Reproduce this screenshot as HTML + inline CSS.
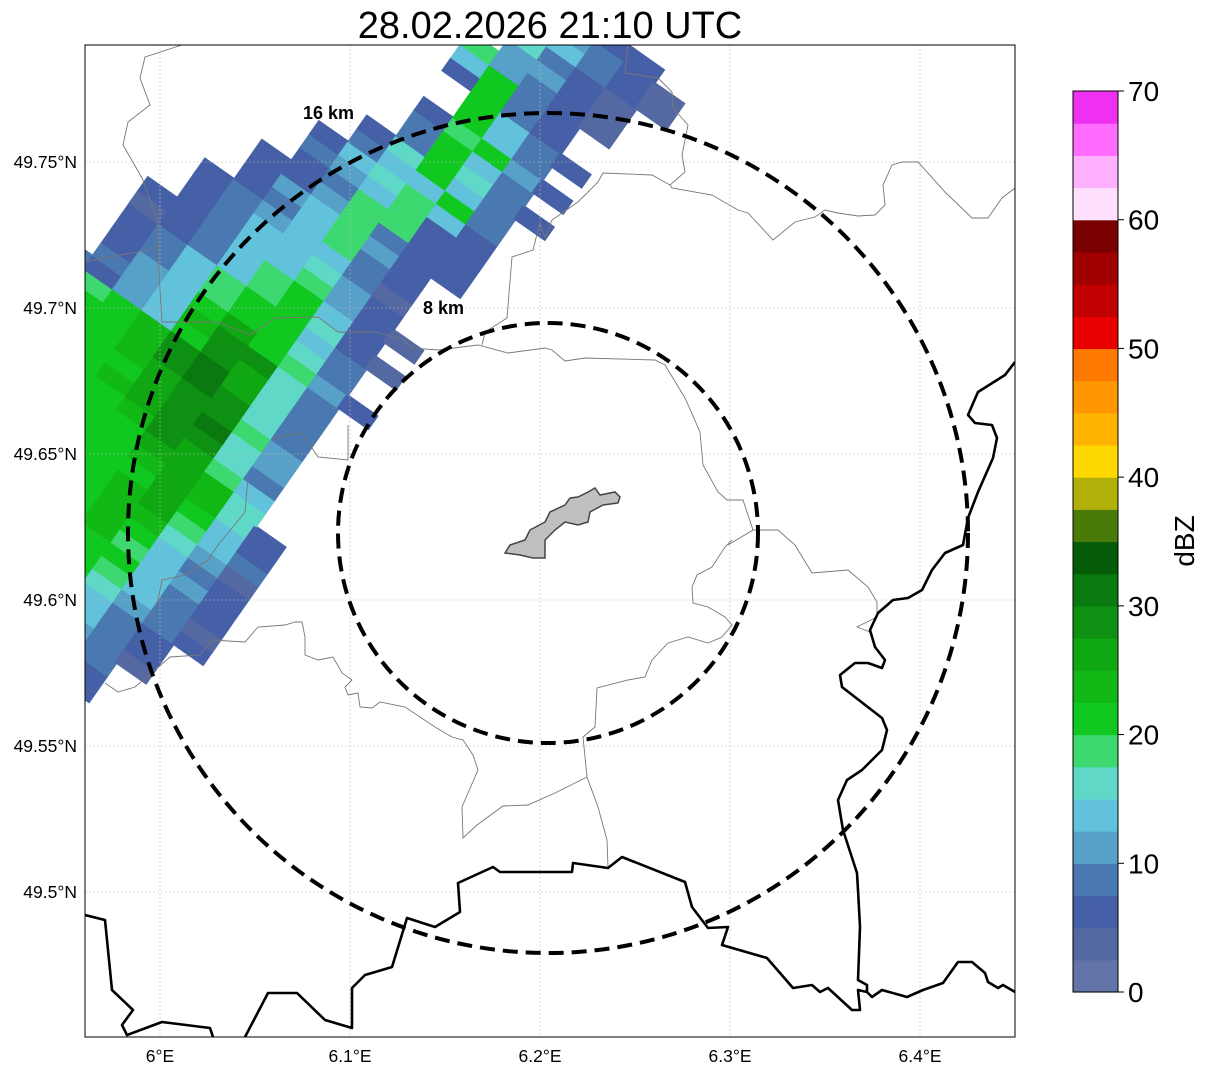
<!DOCTYPE html>
<html><head><meta charset="utf-8">
<style>
html,body{margin:0;padding:0;background:#fff;}
svg{display:block;font-family:"Liberation Sans","DejaVu Sans",sans-serif;}
</style></head>
<body>
<svg id="chart" width="1207" height="1073" viewBox="0 0 1207 1073">
  <defs><clipPath id="mapclip"><rect x="85" y="45" width="930" height="992"/></clipPath></defs>
  <rect width="1207" height="1073" fill="#fff"/>
  <text x="550" y="38" text-anchor="middle" font-size="38" fill="#000">28.02.2026 21:10 UTC</text>
  <g id="map" clip-path="url(#mapclip)">
    <g id="echoes"></g>
    <g id="grid" stroke="#bbb" stroke-width="0.6" stroke-dasharray="2,2" fill="none"></g>
    <g fill="none" stroke="#777" stroke-width="0.9">
      <polyline points="182,45 145,57 140,78 150,105 128,122 123,145 142,178 157,218 158,245 160,290 162,322 185,322 218,322 250,335 275,318 318,317 338,332 375,332 402,339 412,348 438,350 478,345 508,353 545,348 552,350 565,361 585,358 655,360 665,365 685,398 700,432 703,465 718,492 727,500 743,500 753,530 728,545"/>
      <polyline points="753,530 778,530 795,545 812,573 848,570 868,587 877,602 877,617 857,627 870,632"/>
      <polyline points="732,540 725,547 712,567 697,575 692,587 693,603 708,607 725,617 732,625 722,637 708,643 688,637 668,643 652,660 645,677 628,680 597,688 595,727 583,737 587,777 598,807 607,840 608,867"/>
      <polyline points="587,777 555,793 528,805 503,806 477,825 463,838 462,807 468,793 478,770 473,755 463,740 452,737 435,727 405,707 380,702 372,708 360,707 358,693 348,695 345,687 352,680 342,673 333,657 318,660 305,655 305,637 302,622 295,622 285,625 258,627 245,642 212,640 200,655 170,657 155,670 135,687 118,692 105,683"/>
      <polyline points="628,45 625,73 658,78 672,92 673,108 688,125 682,155 685,172 670,185 652,175 603,173 598,182 578,202 552,220 545,238 540,222 533,250 512,257 507,318 485,332 482,345"/>
      <polyline points="670,185 672,188 712,195 738,210 748,213 773,240 795,222 815,217 825,210 838,213 858,216 875,215 885,205 883,185 892,165 902,162 918,162 945,192 972,218 988,218 1002,198 1015,188"/>
      <polyline points="158,245 150,250 120,255 85,262"/>
      <polyline points="272,438 302,433 318,457 348,460 348,425"/>
      <polyline points="248,478 245,512 232,528 218,545 208,560 185,575 162,580 158,600 150,620"/>
    </g>
    <g fill="none" stroke="#000" stroke-width="2.6" stroke-linejoin="round">
      <polyline points="1015,362 1005,375 978,392 968,415 975,423 992,425 997,438 993,458 978,492 968,518 963,545 945,553 932,570 922,590 908,598 893,600 878,613 870,630 875,647 885,660 882,668 868,663 855,663 840,675 842,687 882,718 887,730 882,750 862,770 847,780 838,800 843,830 857,873 858,890 860,927 858,980 867,985 867,992 858,990 860,1010 852,1010 828,988 820,992 812,985 793,988 767,958 722,945 728,927 708,928 692,907 685,882 622,857 608,868 573,863 572,872 500,872 493,867 458,883 460,912 435,927 407,918 392,967 365,975 352,988 352,1028 325,1020 297,993 268,993 245,1037"/>
      <polyline points="867,992 872,997 882,990 907,997 923,990 943,983 958,962 972,962 985,973 988,982 998,988 1003,985 1015,992"/>
      <polyline points="85,915 105,920 112,990 133,1010 122,1025 127,1035 162,1022 210,1028 213,1037"/>
    </g>
    <polygon fill="#c0c0c0" stroke="#444" stroke-width="1.5" points="505,553 510,545 525,540 530,530 545,522 550,512 565,505 570,498 578,497 588,492 595,488 600,495 615,492 620,497 618,503 603,505 590,512 588,522 578,525 565,522 555,530 545,540 545,558 533,558 520,555"/>
    <circle cx="548" cy="533" r="210" fill="none" stroke="#000" stroke-width="4" stroke-dasharray="15,8"/>
    <circle cx="548" cy="533" r="420" fill="none" stroke="#000" stroke-width="4" stroke-dasharray="15,8"/>
    <text x="303" y="119" font-size="18" font-weight="bold">16 km</text>
    <text x="423" y="314" font-size="18" font-weight="bold">8 km</text>
  </g>
  <rect x="85" y="45" width="930" height="992" fill="none" stroke="#000" stroke-width="1"/>
  <g id="ticklabels" font-size="17.5" fill="#000"></g>
  <g id="colorbar"></g>
  <text transform="translate(1194,541) rotate(-90)" text-anchor="middle" font-size="28">dBZ</text>
</svg>
<script>
// ---- data ----
const levels = [0,2.5,5,7.5,10,12.5,15,17.5,20,22.5,25,27.5,30,32.5,35,37.5,40,42.5,45,47.5,50,52.5,55,57.5,60,62.5,65,67.5];
const levelColors = ["#6374a8","#5468a2","#4560a6","#4a78b0","#57a0c8","#62c2dc","#5fd8c8","#3dd870","#10c820","#12b815","#10a812","#0e9012","#0a7a10","#045c08","#4a7a08","#b0b008","#ffd800","#ffb400","#ff9800","#ff7800","#e80000","#c00000","#a00000","#780000","#ffe0ff","#ffb0ff","#ff6cff","#f030f0"];
const cbTicks = [0,10,20,30,40,50,60,70];
const lonTicks = [6.0,6.1,6.2,6.3,6.4];
const lonLabels = ["6°E","6.1°E","6.2°E","6.3°E","6.4°E"];
const latTicks = [49.75,49.7,49.65,49.6,49.55,49.5];
const latLabels = ["49.75°N","49.7°N","49.65°N","49.6°N","49.55°N","49.5°N"];
// echo rows: each char = color level index (hex digit), '.' = no echo
const echoRows = [
"8888888742.....","8888888752.....","8888888643.....","88888887431....","88888888532....",
"88888887532....","888888886432...","888888887531...","888888888532...","888888897542...",
"888888898532...","888888899641...","88888889a753...","88888888a852...","88888889a962...",
"8888888aa96....","8888889ba75....","888889abb63....","887888abc64....","887889abb74....",
"887889bcb63....","878789bca63....","3332458ba63....","...3459bb63....","...2458a8742...",
"...23578863....","...23578853....","...123578621...","...22357852....","....23557421...",
"....2355642....","....2345531....",".....235732....",".....245742....",".....2247322...",
"......237722...","......345722...","......256752...",".......35583...",".......26853...",
"........38632..","........3853...","........27842..",".........853...",".........8532..",
"........2832...","........5832...","........74321..",".........4421..",".........6321..",
"..........5321.","..........4321.","...........22.."
];
// ---- scales ----
const lonX = v => 160 + (v-6.0)*1900;
const latY = v => 162 + (49.75-v)*2920;
const cbY = v => 992 - v*(901/70);
const NS = "http://www.w3.org/2000/svg";
function mk(tag, attrs, parent){const e=document.createElementNS(NS,tag);for(const k in attrs)e.setAttribute(k,attrs[k]);parent.appendChild(e);return e;}

// gridlines
const grid = document.getElementById('grid');
lonTicks.forEach(v=>{const l=mk('line',{x1:lonX(v),x2:lonX(v),y1:45,y2:1037},grid);

});
latTicks.forEach(v=>{const l=mk('line',{x1:85,x2:1015,y1:latY(v),y2:latY(v)},grid);

});

// tick labels
const tl = document.getElementById('ticklabels');
lonTicks.forEach((v,i)=>{const t=mk('text',{x:lonX(v),y:1062,'text-anchor':'middle'},tl);t.textContent=lonLabels[i];

});
latTicks.forEach((v,i)=>{const t=mk('text',{x:77,y:latY(v)+6,'text-anchor':'end'},tl);t.textContent=latLabels[i];

});

// radar echoes
const ech = document.getElementById('echoes');
const O=[0,640], A=[0.574,-0.819], B=[0.819,0.574];
const stepA=16, stepB=36, halfA=8.8, halfB=19.5;
echoRows.forEach((row,i)=>{
  const al=(i+0.5)*stepA;
  for(let k=0;k<row.length;k++){
    const ch=row[k]; if(ch==='.') continue;
    const lvl=parseInt(ch,16);
    const ac=(k-6.5)*stepB;
    const cx=O[0]+al*A[0]+ac*B[0], cy=O[1]+al*A[1]+ac*B[1];
    const pts=[[1,1],[1,-1],[-1,-1],[-1,1]].map(s=>[(cx+s[0]*halfA*A[0]+s[1]*halfB*B[0]).toFixed(1),(cy+s[0]*halfA*A[1]+s[1]*halfB*B[1]).toFixed(1)].join(',')).join(' ');
    const p=mk('polygon',{points:pts,fill:levelColors[lvl]},ech);
    
    
  }
});

// colorbar
const cb=document.getElementById('colorbar');
levels.forEach((v,i)=>{const top=cbY(v+2.5), bot=cbY(v);
  const r=mk('rect',{x:1073,y:top.toFixed(2),width:45,height:(bot-top+0.6).toFixed(2),fill:levelColors[i]},cb);
  
  });
const fr=mk('rect',{x:1073,y:cbY(70),width:45,height:cbY(0)-cbY(70),fill:'none',stroke:'#000','stroke-width':1},cb);


cbTicks.forEach(v=>{const y=cbY(v);
  const l=mk('line',{x1:1118,x2:1124,y1:y,y2:y,stroke:'#000','stroke-width':1},cb);
  
  
  const t=mk('text',{x:1128,y:y+10,'font-size':28},cb);t.textContent=v;
  
  });
</script>
</body></html>
